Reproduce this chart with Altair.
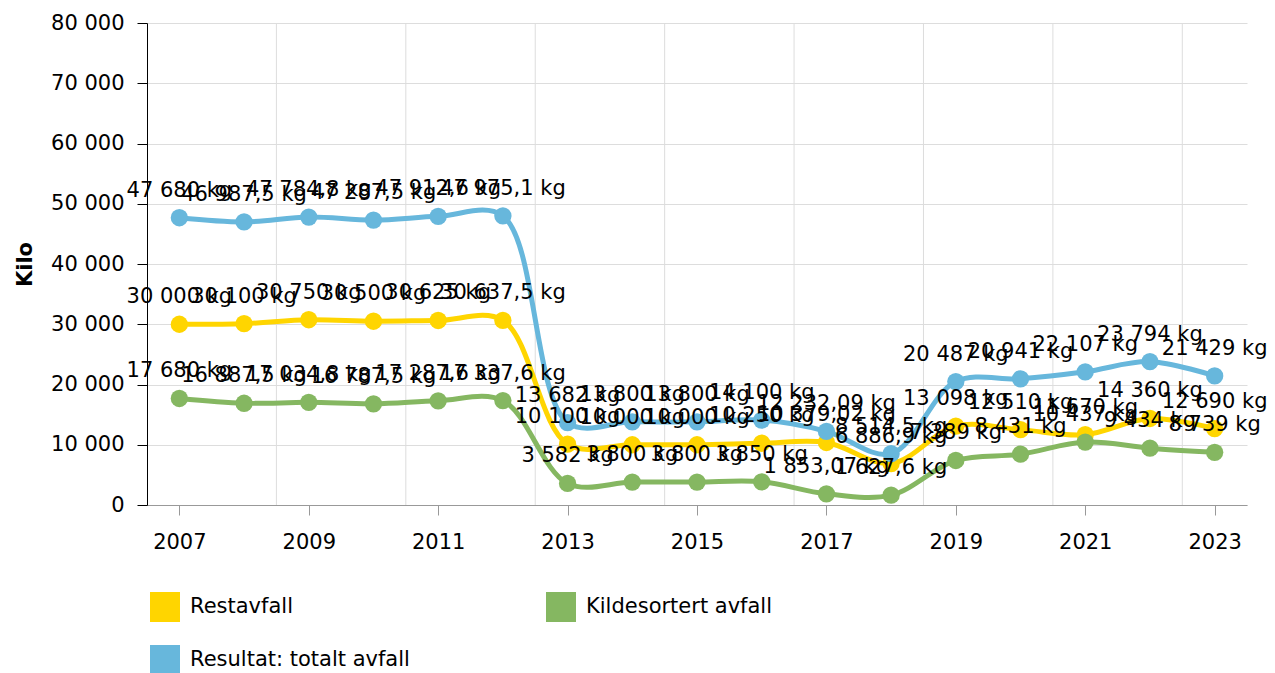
import altair as alt
import pandas as pd

years = list(range(2007, 2024))
series_names = ["Restavfall", "Kildesortert avfall", "Resultat: totalt avfall"]
restavfall = [30000, 30100, 30750, 30500, 30625, 30637.5, 10100, 10000, 10000, 10250,
              10379.02, 6886.9, 13098, 12510, 11670, 14360, 12690]
kildesortert = [17680, 16887.5, 17034.8, 16787.5, 17287.6, 17337.6, 3582, 3800, 3800, 3850,
                1853.07, 1627.6, 7389, 8431, 10437, 9434, 8739]
totalt = [47680, 46987.5, 47784.8, 47287.5, 47912.6, 47975.1, 13682, 13800, 13800, 14100,
          12232.09, 8514.5, 20487, 20941, 22107, 23794, 21429]
colors = ["#FFD500", "#85B761", "#67B7DC"]
y_ticks = list(range(0, 80001, 10000))
x_ticks = list(range(2007, 2024, 2))
x_grid = [2008.5, 2010.5, 2012.5, 2014.5, 2016.5, 2018.5, 2020.5, 2022.5]


def fmt(v):
    s = f"{v:,.2f}".rstrip("0").rstrip(".")
    return s.replace(",", " ").replace(".", ",") + " kg"


rows = []
for name, vals in zip(series_names, [restavfall, kildesortert, totalt]):
    for yr, v in zip(years, vals):
        rows.append({"series": name, "year": yr, "value": v, "label": fmt(v)})
df = pd.DataFrame(rows)
grid_df = pd.DataFrame({"g": x_grid})

FONT = "DejaVu Sans"
FS = 21

x_enc = alt.X(
    "year:Q",
    scale=alt.Scale(domain=[2006.5, 2023.5], nice=False, zero=False),
    axis=alt.Axis(
        values=x_ticks, format="d", grid=False, title=None,
        domainColor="#999999", tickColor="#999999", tickSize=10,
        labelFontSize=FS, labelFont=FONT, labelColor="black", labelPadding=16,
    ),
)
y_enc = alt.Y(
    "value:Q",
    scale=alt.Scale(domain=[0, 80000], nice=False),
    axis=alt.Axis(
        values=y_ticks,
        labelExpr="replace(format(datum.value, ','), ',', ' ')",
        domainColor="black", tickColor="black", tickSize=10,
        labelFontSize=FS, labelFont=FONT, labelColor="black", labelPadding=13,
        gridColor="#dddddd", title="Kilo", titleFontSize=FS, titleFont=FONT,
        titleFontWeight="bold", titleColor="black", titlePadding=15,
    ),
)
color_enc = alt.Color(
    "series:N",
    scale=alt.Scale(domain=series_names, range=colors),
    legend=alt.Legend(
        title=None, orient="none", legendX=3, legendY=569, columns=2,
        direction="horizontal", symbolType="square", symbolSize=900,
        symbolStrokeWidth=0, symbolOpacity=1, labelFontSize=FS, labelFont=FONT,
        labelColor="black", labelLimit=400, labelOffset=10,
        columnPadding=136, rowPadding=23,
    ),
)

base = alt.Chart(df)

vgrid = alt.Chart(grid_df).mark_rule(color="#dddddd", strokeWidth=1).encode(
    x=alt.X("g:Q")
)
lines = base.mark_line(interpolate="catmull-rom", strokeWidth=5).encode(
    x=x_enc, y=y_enc, color=color_enc
)
points = base.mark_circle(size=300, opacity=1).encode(
    x=x_enc, y=y_enc, color=color_enc
)
labels = base.mark_text(dy=-21, fontSize=FS, font=FONT, color="black",
                        baseline="alphabetic").encode(
    x=x_enc, y=y_enc, text="label:N"
)

chart = alt.layer(vgrid, lines, points, labels).properties(
    width=1100, height=482,
    padding={"left": 139, "top": 15, "right": 20, "bottom": 180},
    autosize=alt.AutoSizeParams(type="none"),
).configure_view(stroke=None)

chart.save("out.html", embed_options={"renderer": "svg", "actions": False})
